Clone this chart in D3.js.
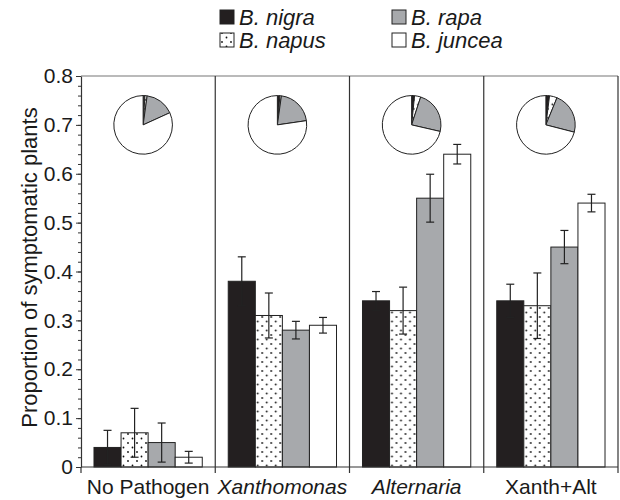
<!DOCTYPE html>
<html>
<head>
<meta charset="utf-8">
<script src="https://cdn.jsdelivr.net/npm/d3@7"></script>
<style>
  body { margin: 0; background: #fff; }
  svg text { font-family: Arial, "Liberation Sans", Helvetica, sans-serif; fill: #1a1a1a; }
</style>
</head>
<body>
<div id="chart"></div>
<script>
var pathogens = ['No Pathogen', 'Xanthomonas', 'Alternaria', 'Xanth+Alt'];
var italicPathogen = [false, true, true, false];
var species = ['B. nigra', 'B. napus', 'B. rapa', 'B. juncea'];

// mean proportion of symptomatic plants, one array per species
var nigra  = [0.04, 0.38, 0.34, 0.34];
var napus  = [0.07, 0.31, 0.32, 0.33];
var rapa   = [0.05, 0.28, 0.55, 0.45];
var juncea = [0.02, 0.29, 0.64, 0.54];

// error bar half widths
var nigraErr  = [0.035, 0.05, 0.019, 0.034];
var napusErr  = [0.05, 0.046, 0.048, 0.067];
var rapaErr   = [0.04, 0.018, 0.049, 0.034];
var junceaErr = [0.012, 0.016, 0.02, 0.018];

// pie shares (nigra, napus, rapa, juncea) per pathogen
var pieNoPath = [0.01, 0.012, 0.16, 0.818];
var pieXanth  = [0.014, 0.008, 0.205, 0.773];
var pieAlt    = [0.016, 0.034, 0.236, 0.714];
var pieXA     = [0.02, 0.042, 0.228, 0.71];

var yTicks = [0, 0.1, 0.2, 0.3, 0.4, 0.5, 0.6, 0.7, 0.8];

var means = [nigra, napus, rapa, juncea];
var errs = [nigraErr, napusErr, rapaErr, junceaErr];
var pies = [pieNoPath, pieXanth, pieAlt, pieXA];
var fills = ['#231f20', 'url(#dots)', '#a7a9ac', '#ffffff'];

var W = 620, H = 500;
var margin = {top: 76, right: 2, bottom: 33, left: 81};

var svg = d3.select('#chart').append('svg')
    .attr('width', W)
    .attr('height', H);

var defs = svg.append('defs');
var pat = defs.append('pattern')
    .attr('id', 'dots')
    .attr('patternUnits', 'userSpaceOnUse')
    .attr('width', 9)
    .attr('height', 9);
pat.append('rect').attr('width', 9).attr('height', 9).attr('fill', '#fff');
pat.append('circle').attr('cx', 2).attr('cy', 2).attr('r', 0.9).attr('fill', '#111');
pat.append('circle').attr('cx', 6.5).attr('cy', 6.5).attr('r', 0.9).attr('fill', '#111');

var x0 = d3.scaleBand()
    .domain(pathogens)
    .range([margin.left, W - margin.right])
    .paddingInner(0);

var x1 = d3.scaleBand()
    .domain(species)
    .range([0, x0.bandwidth()])
    .paddingInner(0)
    .paddingOuter(0.48);

var y = d3.scaleLinear()
    .domain([0, 0.8])
    .range([H - margin.bottom, margin.top]);

// frame: top line, panel dividers, right edge
svg.append('line')
    .attr('x1', margin.left).attr('x2', W - margin.right)
    .attr('y1', y(0.8)).attr('y2', y(0.8))
    .attr('stroke', '#777').attr('stroke-width', 1.2);

var dividers = pathogens.slice(1).map(function(p) { return x0(p); });
dividers.push(W - margin.right);
svg.selectAll('.divider')
    .data(dividers)
    .enter().append('line')
    .attr('class', 'divider')
    .attr('x1', function(d) { return d; })
    .attr('x2', function(d) { return d; })
    .attr('y1', y(0.8))
    .attr('y2', y(0) + 6)
    .attr('stroke', '#333')
    .attr('stroke-width', 1.2);

// bars
var groups = svg.selectAll('.grp')
    .data(pathogens)
    .enter().append('g')
    .attr('class', 'grp')
    .attr('transform', function(d) { return 'translate(' + x0(d) + ',0)'; });

groups.each(function(p, i) {
    var g = d3.select(this);
    var rows = species.map(function(s, j) {
        return {s: s, v: means[j][i], e: errs[j][i], fill: fills[j]};
    });

    g.selectAll('rect')
        .data(rows)
        .enter().append('rect')
        .attr('x', function(d) { return x1(d.s); })
        .attr('y', function(d) { return y(d.v); })
        .attr('width', x1.bandwidth())
        .attr('height', function(d) { return y(0) - y(d.v); })
        .attr('fill', function(d) { return d.fill; })
        .attr('stroke', '#222')
        .attr('stroke-width', 1);

    var eb = g.selectAll('.err')
        .data(rows)
        .enter().append('g')
        .attr('class', 'err')
        .attr('stroke', '#222')
        .attr('stroke-width', 1.2);
    var cx = function(d) { return x1(d.s) + x1.bandwidth() / 2; };
    eb.append('line')
        .attr('x1', cx).attr('x2', cx)
        .attr('y1', function(d) { return y(d.v + d.e); })
        .attr('y2', function(d) { return y(d.v - d.e); });
    eb.append('line')
        .attr('x1', function(d) { return cx(d) - 4; })
        .attr('x2', function(d) { return cx(d) + 4; })
        .attr('y1', function(d) { return y(d.v + d.e); })
        .attr('y2', function(d) { return y(d.v + d.e); });
    eb.append('line')
        .attr('x1', function(d) { return cx(d) - 4; })
        .attr('x2', function(d) { return cx(d) + 4; })
        .attr('y1', function(d) { return y(d.v - d.e); })
        .attr('y2', function(d) { return y(d.v - d.e); });

    // pie
    var r = y(0.7) - y(0.76);
    var pie = d3.pie().sort(null).value(function(d) { return d.v; });
    var arc = d3.arc().innerRadius(0).outerRadius(r);
    var slices = species.map(function(s, j) { return {s: s, v: pies[i][j], fill: fills[j]}; });
    var pg = g.append('g')
        .attr('transform', 'translate(' + (x0.bandwidth() / 2 - 5) + ',' + y(0.7) + ')');
    pg.selectAll('path')
        .data(pie(slices))
        .enter().append('path')
        .attr('d', arc)
        .attr('fill', function(d) { return d.data.fill; })
        .attr('stroke', '#222')
        .attr('stroke-width', 1);
});

// y axis
var yAxis = d3.axisLeft(y)
    .tickValues(yTicks)
    .tickSize(5)
    .tickSizeOuter(0)
    .tickFormat(function(d) { return d === 0 ? '0' : d3.format('.1f')(d); });

var yMinor = d3.axisLeft(y)
    .tickValues(d3.range(0, 0.801, 0.02))
    .tickSize(3)
    .tickSizeOuter(0)
    .tickFormat('');

svg.append('g')
    .attr('transform', 'translate(' + margin.left + ',0)')
    .call(yMinor)
    .call(function(g) { g.select('.domain').remove(); })
    .selectAll('line').attr('stroke', '#333');

var ya = svg.append('g')
    .attr('transform', 'translate(' + margin.left + ',0)')
    .call(yAxis);
ya.select('.domain').attr('stroke', '#333').attr('stroke-width', 1.2);
ya.selectAll('line').attr('stroke', '#333');
ya.selectAll('text')
    .attr('x', -8)
    .style('font-size', '21px')
    .style('font-family', 'Arial, "Liberation Sans", sans-serif')
    .attr('fill', '#1a1a1a');

// x axis line
var xa = svg.append('g')
    .attr('transform', 'translate(0,' + y(0) + ')');
xa.append('line')
    .attr('x1', margin.left).attr('x2', W - margin.right)
    .attr('stroke', '#333').attr('stroke-width', 1.2);
xa.append('line')
    .attr('x1', margin.left).attr('x2', margin.left)
    .attr('y1', 0).attr('y2', 6)
    .attr('stroke', '#333').attr('stroke-width', 1.2);

xa.selectAll('.cat')
    .data(pathogens)
    .enter().append('text')
    .attr('class', 'cat')
    .attr('x', function(d) { return x0(d) + x0.bandwidth() / 2; })
    .attr('y', 27)
    .attr('text-anchor', 'middle')
    .style('font-size', '21px')
    .style('font-style', function(d, i) { return italicPathogen[i] ? 'italic' : 'normal'; })
    .text(function(d) { return d; });

// y label
svg.append('text')
    .attr('transform', 'translate(37,' + (y(0.4) - 4) + ') rotate(-90)')
    .attr('text-anchor', 'middle')
    .style('font-size', '22px')
    .text('Proportion of symptomatic plants');

// legend
var legX = [220, 392];
var legY = [17, 40];
var leg = svg.selectAll('.leg')
    .data(species)
    .enter().append('g')
    .attr('class', 'leg')
    .attr('transform', function(d, i) {
        return 'translate(' + legX[i < 2 ? 0 : 1] + ',' + legY[i % 2] + ')';
    });
leg.append('rect')
    .attr('x', 0).attr('y', -7)
    .attr('width', 14).attr('height', 14)
    .attr('fill', function(d, i) { return fills[i]; })
    .attr('stroke', '#222')
    .attr('stroke-width', 1);
leg.append('text')
    .attr('x', 19)
    .attr('y', 7.5)
    .style('font-size', '22px')
    .style('font-style', 'italic')
    .text(function(d) { return d; });
</script>
</body>
</html>
